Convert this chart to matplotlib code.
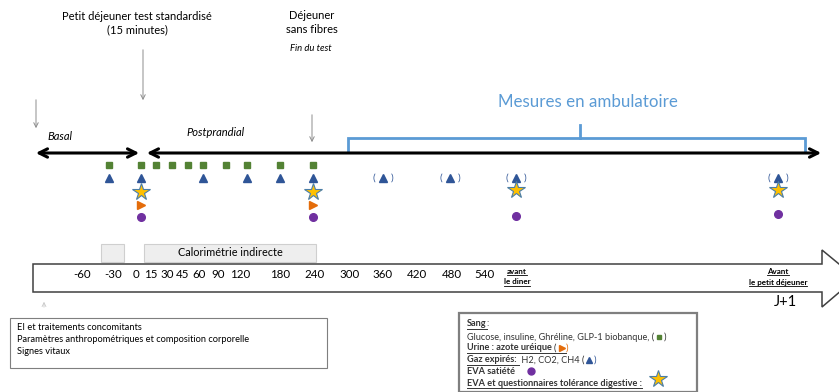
import matplotlib.pyplot as plt
from matplotlib.patches import Polygon, Rectangle

plt.rcParams['font.family'] = ['Lato', 'DejaVu Sans']

# time axis labels
tick_labels = ['-60', '-30', '0', '15', '30', '45', '60', '90', '120', '180',
               '240', '300', '360', '420', '480', '540']
tick_x = [82, 113, 136, 151, 167, 183, 199, 218, 240, 280, 315, 350, 383, 417, 452, 484]

# sampling points per measure (keys of the marker columns below)
blood = ['-30', '0', '15', '30', '45', '60', '90', '120', '180', '240']
gas = ['-30', '0', '60', '120', '180', '240']
gas_amb = ['360', '480', 'diner', 'J+1']
stars = ['0', '240', 'diner', 'J+1']
urine = ['0', '240']
eva = ['0', '240', 'diner', 'J+1']

col_x = {'-30': 109, '0': 141, '15': 156, '30': 172, '45': 188, '60': 203, '90': 226,
         '120': 247, '180': 280, '240': 313, '360': 383, '480': 450, 'diner': 516, 'J+1': 778}

GREEN = '#538234'
BLUE = '#2F5597'
GOLD = '#FFC000'
ORANGE = '#E46C0A'
PURPLE = '#7030A0'
LBLUE = '#5B9BD5'
GREY = '#8c8c8c'

fig = plt.figure(figsize=(8.39, 3.92), dpi=100)
ax = fig.add_axes([0, 0, 1, 1])
ax.set_xlim(0, 839)
ax.set_ylim(392, 0)
ax.axis('off')

# top annotations
ax.text(137, 16, 'Petit déjeuner test standardisé', ha='center', va='center', fontsize=8)
ax.text(137, 30, '(15 minutes)', ha='center', va='center', fontsize=8)
ax.text(312, 15, 'Déjeuner', ha='center', va='center', fontsize=8)
ax.text(312, 29, 'sans fibres', ha='center', va='center', fontsize=8)
ax.text(311, 48, 'Fin du test', ha='center', va='center', fontsize=6.8, style='italic')

def down_arrow(x, y0, y1):
    ax.annotate('', xy=(x, y1), xytext=(x, y0),
                arrowprops=dict(arrowstyle='->', color=GREY, lw=0.7, mutation_scale=8))

down_arrow(143, 47, 103)
down_arrow(36, 97, 131)
down_arrow(312, 112, 145)

ax.text(60, 136, 'Basal', ha='center', va='center', fontsize=8, style='italic')
ax.text(216, 133, 'Postprandial', ha='center', va='center', fontsize=8, style='italic')

# black time arrows
ax.annotate('', xy=(33, 153), xytext=(142, 153),
            arrowprops=dict(arrowstyle='<->', color='black', lw=2.2, mutation_scale=15))
ax.annotate('', xy=(144, 153), xytext=(824, 153),
            arrowprops=dict(arrowstyle='<->', color='black', lw=2.2, mutation_scale=15))

# ambulatory bracket
ax.plot([348, 348, 805, 805], [152, 138, 138, 152], color=LBLUE, lw=2, solid_joinstyle='miter')
ax.plot([580, 580], [138, 125], color=LBLUE, lw=2)
ax.text(588, 102, 'Mesures en ambulatoire', ha='center', va='center', fontsize=12.2, color=LBLUE)

# markers
def xs(keys):
    return [col_x[k] for k in keys]

ax.plot(xs(blood), [165] * len(blood), 's', color=GREEN, ms=4.2, ls='none')
ax.plot(xs(gas), [178] * len(gas), '^', color=BLUE, ms=6, ls='none')
ax.plot(xs(gas_amb), [178] * len(gas_amb), '^', color=BLUE, ms=5.5, ls='none')
for k in gas_amb:
    ax.text(col_x[k] - 9, 178, '(', ha='center', va='center', fontsize=7.5, color=BLUE)
    ax.text(col_x[k] + 9, 178, ')', ha='center', va='center', fontsize=7.5, color=BLUE)
ax.plot(xs(stars), [192, 192, 190, 190], '*', color=GOLD, mec='#4a7ea8', mew=0.8, ms=13, ls='none')
ax.plot(xs(urine), [205] * len(urine), '>', color=ORANGE, ms=5.5, ls='none')
ax.plot(xs(eva), [217, 217, 216, 214], 'o', color=PURPLE, ms=5.5, ls='none')

# calorimetry boxes
ax.add_patch(Rectangle((101, 244), 23, 18, fc='#eeeeee', ec='#cfcfcf', lw=0.8))
ax.add_patch(Rectangle((144, 244), 172, 18, fc='#eeeeee', ec='#cfcfcf', lw=0.8))
ax.text(230, 253, 'Calorimétrie indirecte', ha='center', va='center', fontsize=7.8)

# big time arrow
ax.add_patch(Polygon([(33, 264), (822, 264), (822, 250), (856, 278), (822, 307),
                      (822, 292), (33, 292)], closed=True, fc='white', ec='#404040', lw=1.1,
                     clip_on=True))
for lab, x in zip(tick_labels, tick_x):
    ax.text(x, 274, lab, ha='center', va='center', fontsize=8.3)
ax.text(785, 302, 'J+1', ha='center', va='center', fontsize=10.5)

# up arrow to the left box
ax.annotate('', xy=(44, 299), xytext=(44, 310),
            arrowprops=dict(arrowstyle='->', color='#c8c8c8', lw=0.6, mutation_scale=7))

ax.add_patch(Rectangle((10, 318), 317, 50, fc='white', ec='#7f7f7f', lw=0.8))
ax.text(17, 328, 'EI et traitements concomitants', va='center', fontsize=6.7)
ax.text(17, 340, 'Paramètres anthropométriques et composition corporelle', va='center', fontsize=6.7)
ax.text(17, 352, 'Signes vitaux', va='center', fontsize=6.7)

# legend box
ax.add_patch(Rectangle((459, 313), 238, 79, fc='white', ec='#7f7f7f', lw=1.6, clip_on=False))

fig.canvas.draw()
renderer = fig.canvas.get_renderer()


def run(x, y, pieces, fs=6.6):
    # pieces: (text, color, bold, underline)
    for txt, color, bold, under in pieces:
        t = ax.text(x, y, txt, va='center', ha='left', fontsize=fs, color=color,
                    fontweight='bold' if bold else 'normal')
        w = t.get_window_extent(renderer).width
        if under:
            ax.plot([x, x + w], [y + 4.5, y + 4.5], color=color, lw=0.7)
        x += w
    return x


# underlined labels under the arrow
def under_center(x, y, txt, fs=5.8):
    t = ax.text(x, y, txt, ha='center', va='center', fontsize=fs, fontweight='bold')
    w = t.get_window_extent(renderer).width
    ax.plot([x - w / 2, x + w / 2], [y + 4, y + 4], color='black', lw=0.6)


under_center(517, 271, 'avant')
under_center(517, 282, 'le diner')
under_center(778, 271, 'Avant')
under_center(778, 282, 'le petit déjeuner')

K = '#333333'
run(467, 324, [('Sang', K, True, True), (':', K, False, False)])
end = run(467, 337, [('Glucose, insuline, Ghréline, GLP-1 biobanque, (', K, False, False),
                     ('    ', K, False, False), (')', K, False, False)])
ax.plot(end - 7, 337, 's', color=GREEN, ms=3)
end = run(467, 348, [('Urine : azote uréique ', K, True, True), ('(    ', K, False, True),
                     (')', ORANGE, False, False)])
ax.plot(end - 7, 348, '>', color=ORANGE, ms=4)
end = run(467, 360, [('Gaz expirés: ', K, True, True), (' H2, CO2, CH4 (    ', K, False, False),
                     (')', BLUE, False, False)])
ax.plot(end - 7, 360, '^', color=BLUE, ms=4)
run(467, 372, [('EVA satiété', K, True, False)])
ax.plot(531, 371, 'o', color=PURPLE, ms=5)
run(467, 383, [('EVA et questionnaires tolérance digestive :', K, True, True)])
ax.plot(658, 379, '*', color=GOLD, mec='#4a7ea8', mew=0.8, ms=13)

fig.savefig('out.png', dpi=100)
